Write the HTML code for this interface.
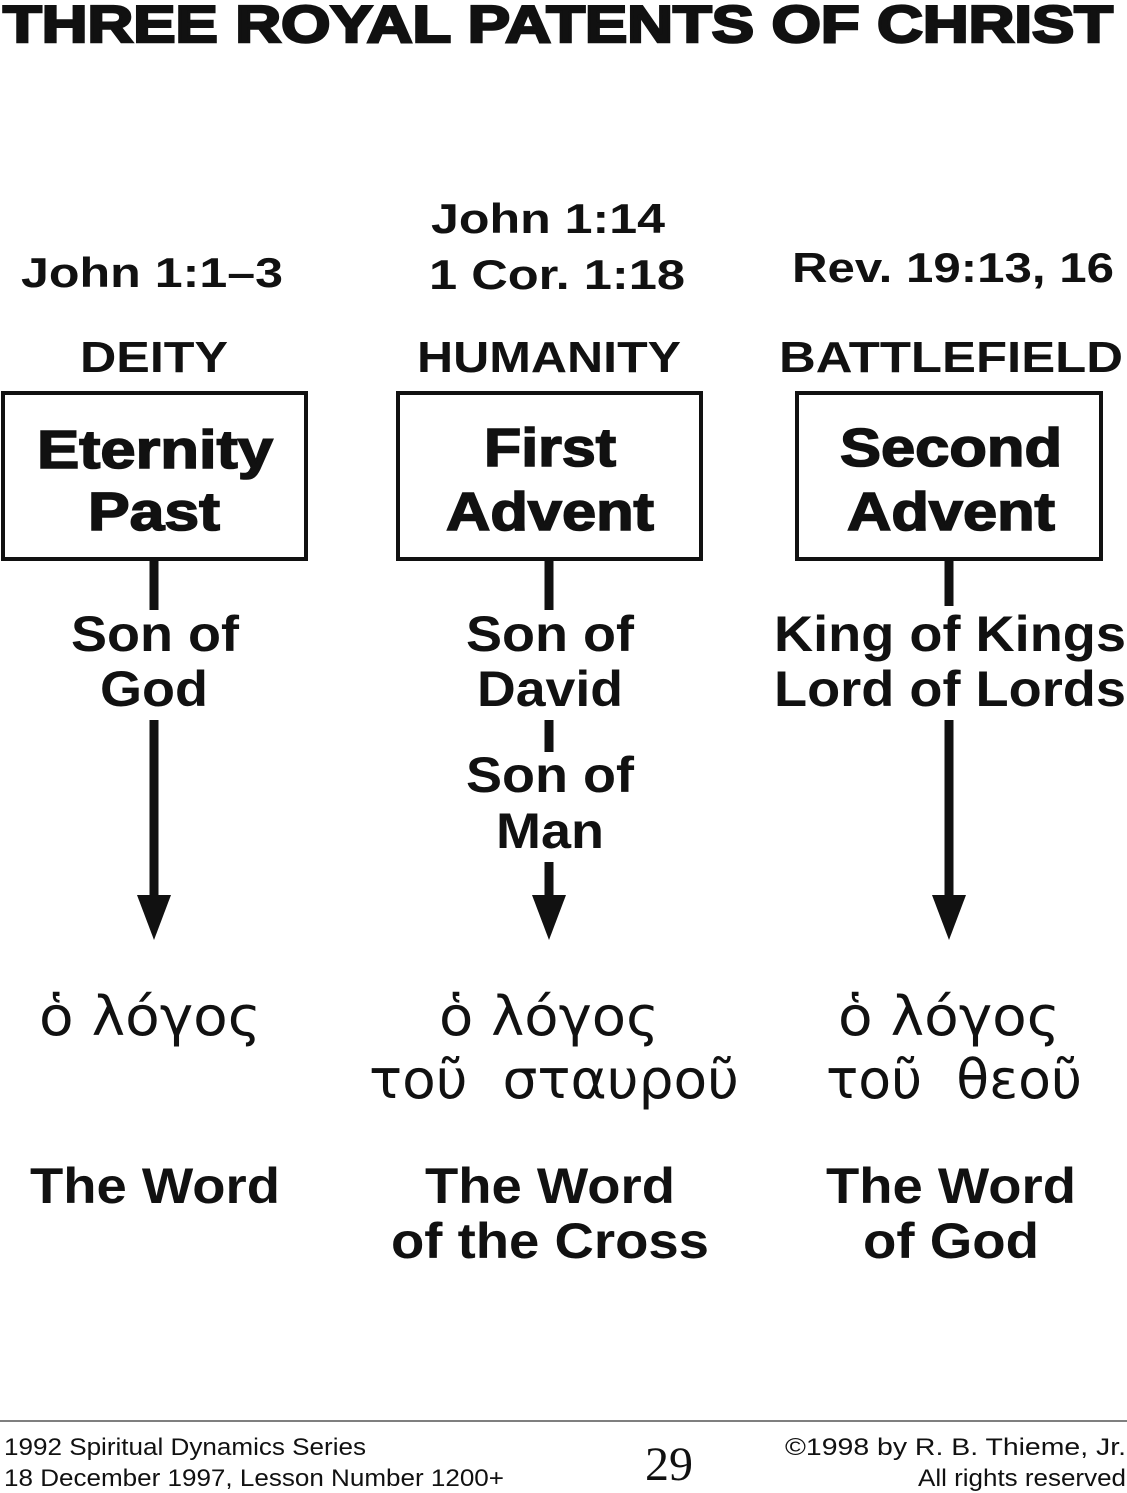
<!DOCTYPE html>
<html><head><meta charset="utf-8"><style>
html,body{margin:0;padding:0;background:#fff;}
svg{display:block;}
.b{font-family:"Liberation Sans",sans-serif;font-weight:bold;fill:#111;text-anchor:middle;}
.h{stroke:#111;stroke-width:1.6;}
.g{font-family:"DejaVu Sans","Liberation Serif",serif;fill:#111;text-anchor:middle;}
.f{font-family:"Liberation Sans",sans-serif;fill:#111;font-size:24px;}
</style></head><body>
<svg width="1127" height="1493" viewBox="0 0 1127 1493" xmlns="http://www.w3.org/2000/svg">
<text class="b h" x="558" y="42" font-size="52" textLength="1110" lengthAdjust="spacingAndGlyphs" style="stroke-width:2.5">THREE ROYAL PATENTS OF CHRIST</text>

<text class="b" x="152" y="287" font-size="42" textLength="262" lengthAdjust="spacingAndGlyphs">John 1:1–3</text>
<text class="b" x="548" y="233" font-size="42" textLength="234" lengthAdjust="spacingAndGlyphs">John 1:14</text>
<text class="b" x="557" y="289" font-size="42" textLength="256" lengthAdjust="spacingAndGlyphs">1 Cor. 1:18</text>
<text class="b" x="953" y="282" font-size="42" textLength="322" lengthAdjust="spacingAndGlyphs">Rev. 19:13, 16</text>

<text class="b" x="154" y="372" font-size="44" textLength="148" lengthAdjust="spacingAndGlyphs">DEITY</text>
<text class="b" x="549" y="372" font-size="44" textLength="264" lengthAdjust="spacingAndGlyphs">HUMANITY</text>
<text class="b" x="951" y="372" font-size="44" textLength="344" lengthAdjust="spacingAndGlyphs">BATTLEFIELD</text>

<g fill="none" stroke="#111" stroke-width="4">
<rect x="3" y="393" width="303" height="166"/>
<rect x="398" y="393" width="303" height="166"/>
<rect x="797" y="393" width="304" height="166"/>
</g>
<text class="b h" x="155" y="468" font-size="54" textLength="236" lengthAdjust="spacingAndGlyphs">Eternity</text>
<text class="b h" x="154" y="530" font-size="54" textLength="132" lengthAdjust="spacingAndGlyphs">Past</text>
<text class="b h" x="550" y="466" font-size="54" textLength="132" lengthAdjust="spacingAndGlyphs">First</text>
<text class="b h" x="550" y="530" font-size="54" textLength="208" lengthAdjust="spacingAndGlyphs">Advent</text>
<text class="b h" x="951" y="466" font-size="54" textLength="222" lengthAdjust="spacingAndGlyphs">Second</text>
<text class="b h" x="951" y="530" font-size="54" textLength="208" lengthAdjust="spacingAndGlyphs">Advent</text>

<g stroke="#111" stroke-width="9">
<line x1="154" y1="559" x2="154" y2="610"/>
<line x1="549" y1="559" x2="549" y2="610"/>
<line x1="949" y1="559" x2="949" y2="606"/>
<line x1="154" y1="720" x2="154" y2="900"/>
<line x1="549" y1="720" x2="549" y2="752"/>
<line x1="549" y1="862" x2="549" y2="900"/>
<line x1="949" y1="720" x2="949" y2="900"/>
</g>
<g fill="#111">
<polygon points="137,895 171,895 154,940"/>
<polygon points="532,895 566,895 549,940"/>
<polygon points="932,895 966,895 949,940"/>
</g>

<text class="b" x="155" y="651" font-size="50" textLength="168" lengthAdjust="spacingAndGlyphs">Son of</text>
<text class="b" x="154" y="706" font-size="50" textLength="108" lengthAdjust="spacingAndGlyphs">God</text>
<text class="b" x="550" y="651" font-size="50" textLength="168" lengthAdjust="spacingAndGlyphs">Son of</text>
<text class="b" x="550" y="706" font-size="50" textLength="146" lengthAdjust="spacingAndGlyphs">David</text>
<text class="b" x="550" y="792" font-size="50" textLength="168" lengthAdjust="spacingAndGlyphs">Son of</text>
<text class="b" x="550" y="848" font-size="50" textLength="108" lengthAdjust="spacingAndGlyphs">Man</text>
<text class="b" x="950" y="651" font-size="50" textLength="352" lengthAdjust="spacingAndGlyphs">King of Kings</text>
<text class="b" x="950" y="706" font-size="50" textLength="352" lengthAdjust="spacingAndGlyphs">Lord of Lords</text>

<text class="g" x="150" y="1035" font-size="54" textLength="222" lengthAdjust="spacingAndGlyphs">ὁ λόγος</text>
<text class="g" x="549" y="1035" font-size="54" textLength="220" lengthAdjust="spacingAndGlyphs">ὁ λόγος</text>
<text class="g" x="554" y="1098" font-size="54" textLength="370" lengthAdjust="spacingAndGlyphs">τοῦ&#160; σταυροῦ</text>
<text class="g" x="949" y="1035" font-size="54" textLength="222" lengthAdjust="spacingAndGlyphs">ὁ λόγος</text>
<text class="g" x="954" y="1098" font-size="54" textLength="256" lengthAdjust="spacingAndGlyphs">τοῦ&#160; θεοῦ</text>

<text class="b" x="155" y="1203" font-size="50" textLength="250" lengthAdjust="spacingAndGlyphs">The Word</text>
<text class="b" x="550" y="1203" font-size="50" textLength="250" lengthAdjust="spacingAndGlyphs">The Word</text>
<text class="b" x="550" y="1258" font-size="50" textLength="318" lengthAdjust="spacingAndGlyphs">of the Cross</text>
<text class="b" x="951" y="1203" font-size="50" textLength="250" lengthAdjust="spacingAndGlyphs">The Word</text>
<text class="b" x="951" y="1258" font-size="50" textLength="176" lengthAdjust="spacingAndGlyphs">of God</text>

<line x1="0" y1="1421" x2="1127" y2="1421" stroke="#555" stroke-width="1.5"/>
<text class="f" x="4" y="1455" textLength="362" lengthAdjust="spacingAndGlyphs">1992 Spiritual Dynamics Series</text>
<text class="f" x="4" y="1486" textLength="500" lengthAdjust="spacingAndGlyphs">18 December 1997, Lesson Number 1200+</text>
<text x="669" y="1480" font-family="Liberation Serif,serif" font-size="48" text-anchor="middle" fill="#111">29</text>
<text class="f" x="785" y="1455" textLength="341" lengthAdjust="spacingAndGlyphs">©1998 by R. B. Thieme, Jr.</text>
<text class="f" x="918" y="1486" textLength="208" lengthAdjust="spacingAndGlyphs">All rights reserved</text>
</svg>
</body></html>
